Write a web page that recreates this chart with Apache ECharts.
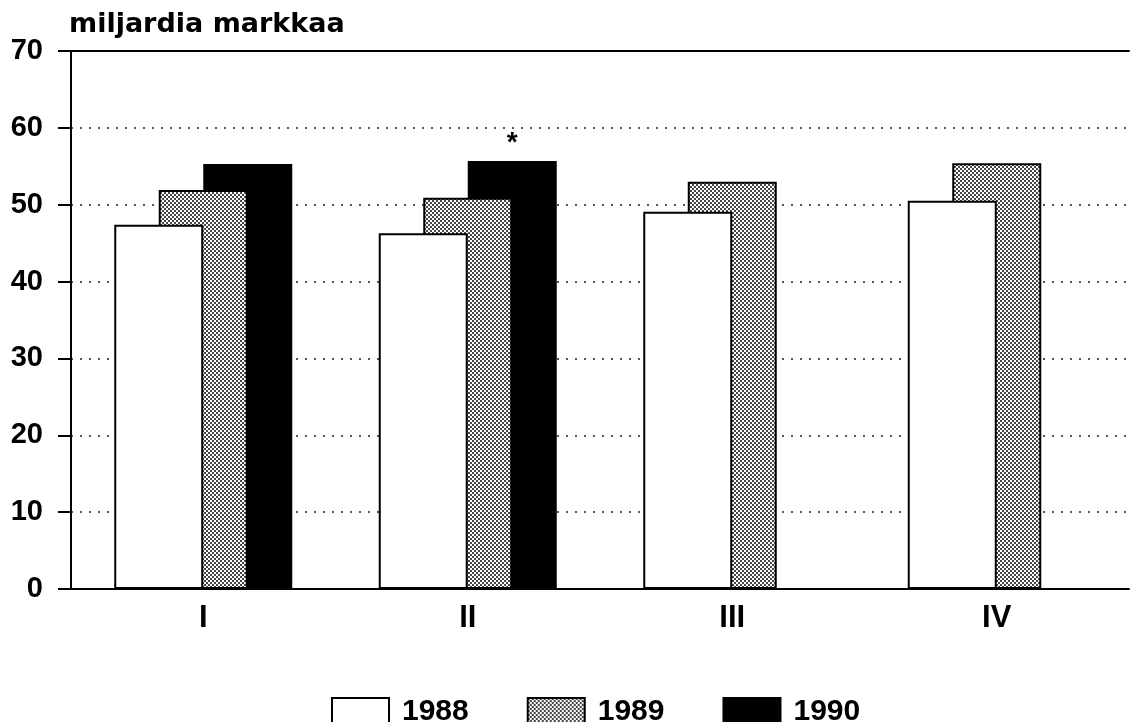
<!DOCTYPE html>
<html>
<head>
<meta charset="utf-8">
<script src="https://cdn.jsdelivr.net/npm/echarts@6/dist/echarts.min.js"></script>
<style>
  html, body { margin: 0; padding: 0; background: #fff; }
  #chart { width: 1130px; height: 722px; }
</style>
</head>
<body>
<div id="chart"></div>
<script>
// quarters and values (billion marks)
var quarters = ['I', 'II', 'III', 'IV'];
var years = ['1988', '1989', '1990'];
var v1988 = [47.4, 46.3, 49.1, 50.5];
var v1989 = [51.9, 50.9, 53.0, 55.4];
var v1990 = [55.3, 55.7, null, null];
var yTicks = [0, 10, 20, 30, 40, 50, 60, 70];

// stipple pattern for 1989
function stipple() {
  var c = document.createElement('canvas');
  c.width = 4; c.height = 4;
  var ctx = c.getContext('2d');
  ctx.fillStyle = '#fff';
  ctx.fillRect(0, 0, 4, 4);
  ctx.fillStyle = '#444';
  ctx.fillRect(0, 0, 2, 2);
  ctx.fillRect(2, 2, 2, 2);
  return c;
}

var font = 'Liberation Sans';
var myChart = echarts.init(document.getElementById('chart'), null, { renderer: 'canvas' });

var option = {
  animation: false,
  backgroundColor: '#fff',
  title: {
    text: 'miljardia markkaa',
    left: 64,
    top: 6,
    textStyle: { fontFamily: 'DejaVu Sans', fontWeight: 'bold', fontSize: 27, color: '#000' }
  },
  legend: {
    data: years,
    left: 326,
    top: 692,
    itemWidth: 57,
    itemHeight: 28,
    itemGap: 58,
    icon: 'rect',
    textStyle: { fontFamily: font, fontWeight: 'bold', fontSize: 30, color: '#000', padding: [4, 0, 0, 8] }
  },
  grid: { left: 71, right: 1, top: 51, bottom: 133 },
  xAxis: [
    {
      type: 'category',
      data: quarters,
      axisLine: { show: true, lineStyle: { color: '#000', width: 2 } },
      axisTick: { show: false },
      axisLabel: { margin: 14, fontFamily: font, fontWeight: 'bold', fontSize: 31, color: '#000' }
    },
    {
      type: 'category',
      data: quarters,
      position: 'top',
      axisLine: { show: true, lineStyle: { color: '#000', width: 2 } },
      axisTick: { show: false },
      axisLabel: { show: false }
    }
  ],
  yAxis: {
    type: 'value',
    min: yTicks[0],
    max: yTicks[yTicks.length - 1],
    interval: 10,
    axisLine: { show: true, lineStyle: { color: '#000', width: 2 } },
    axisTick: { show: true, length: 13, lineStyle: { color: '#000', width: 2 } },
    axisLabel: { margin: 28, fontFamily: font, fontWeight: 'bold', fontSize: 29, color: '#000' },
    splitLine: { show: true, lineStyle: { color: '#222', width: 1.5, type: [2, 7] } }
  },
  series: [
    {
      name: years[0],
      type: 'bar',
      z: 4,
      barWidth: 89,
      barGap: '-50%',
      data: v1988,
      itemStyle: { color: '#fff', borderColor: '#000', borderWidth: 2 }
    },
    {
      name: years[1],
      type: 'bar',
      z: 3,
      barWidth: 89,
      barGap: '-50%',
      data: v1989,
      itemStyle: { color: { image: stipple(), repeat: 'repeat' }, borderColor: '#000', borderWidth: 2 }
    },
    {
      name: years[2],
      type: 'bar',
      z: 2,
      barWidth: 89,
      barGap: '-50%',
      data: v1990.map(function (v, i) {
        if (i === 1) {
          return {
            value: v,
            label: {
              show: true, position: 'top', distance: 4, formatter: '*',
              fontFamily: font, fontWeight: 'bold', fontSize: 28, color: '#000'
            }
          };
        }
        return v;
      }),
      itemStyle: { color: '#000', borderColor: '#000', borderWidth: 2 }
    }
  ]
};
option && myChart.setOption(option);
</script>
</body>
</html>
